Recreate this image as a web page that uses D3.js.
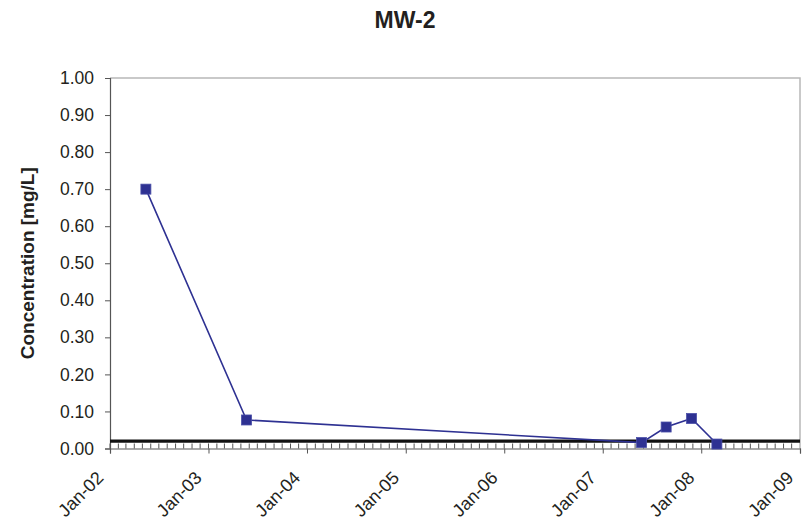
<!DOCTYPE html>
<html>
<head>
<meta charset="utf-8">
<script src="https://cdn.jsdelivr.net/npm/d3@7"></script>
<style>
  html, body { margin: 0; padding: 0; background: #fff; }
  svg { display: block; font-family: "Liberation Sans", Arial, sans-serif; }
</style>
</head>
<body>
<svg id="chart" width="803" height="522"></svg>
<script>
// Sampling dates and measured concentrations for well MW-2
const sampleDates = ["2002-05-14", "2003-05-22", "2007-05-25", "2007-08-24", "2007-11-26", "2008-02-28"];
const concentrations = [0.70, 0.077, 0.016, 0.058, 0.081, 0.012];
// Reference / screening level
const thresholdValue = 0.02;
// Axis ticks
const yTickValues = [0, 0.1, 0.2, 0.3, 0.4, 0.5, 0.6, 0.7, 0.8, 0.9, 1.0];
const xTickLabels = ["Jan-02", "Jan-03", "Jan-04", "Jan-05", "Jan-06", "Jan-07", "Jan-08", "Jan-09"];
const xDomain = ["2002-01-01", "2009-01-01"];

const parse = d3.timeParse("%Y-%m-%d");
const points = sampleDates.map((d, i) => ({ date: parse(d), value: concentrations[i] }));

const svg = d3.select("#chart");
const plotLeft = 110, plotRight = 800, plotTop = 78, plotBottom = 448.5;
const textColor = "#231f20";

const x = d3.scaleTime().domain(xDomain.map(parse)).range([plotLeft, plotRight]);
const y = d3.scaleLinear().domain([0, 1]).range([plotBottom, plotTop]);

// Title
svg.append("text")
  .attr("x", 405).attr("y", 28)
  .attr("text-anchor", "middle")
  .attr("font-size", 23).attr("font-weight", "bold")
  .attr("fill", textColor)
  .text("MW-2");

// Plot frame: top and right edges in light grey
svg.append("path")
  .attr("d", `M${plotLeft},${plotTop}H${plotRight}V${plotBottom}`)
  .attr("fill", "none").attr("stroke", "#b8b8b8").attr("stroke-width", 1.5);

// Y axis
const yAxis = svg.append("g")
  .attr("transform", `translate(${plotLeft},0)`)
  .call(d3.axisLeft(y).tickValues(yTickValues).tickFormat(d3.format(".2f")).tickSizeOuter(0).tickSize(5).tickPadding(11));
yAxis.select(".domain").attr("stroke", "#555").attr("stroke-width", 1.2);
yAxis.selectAll(".tick line").attr("stroke", "#555");
yAxis.selectAll("text").attr("font-size", 17.5).attr("fill", textColor)
  .attr("font-family", "Liberation Sans, Arial, sans-serif");

// Y axis title
svg.append("text")
  .attr("transform", `translate(34,${(plotTop + plotBottom) / 2}) rotate(-90)`)
  .attr("text-anchor", "middle")
  .attr("font-size", 19).attr("font-weight", "bold")
  .attr("fill", textColor)
  .text("Concentration [mg/L]");

// Monthly minor ticks pointing into the plot
const months = d3.timeMonth.range(x.domain()[0], x.domain()[1]);
svg.append("g").selectAll("line")
  .data(months)
  .join("line")
  .attr("x1", d => x(d)).attr("x2", d => x(d))
  .attr("y1", plotBottom).attr("y2", plotBottom - 5)
  .attr("stroke", "#555").attr("stroke-width", 1);

// X axis with yearly major ticks
const yearTicks = d3.timeYear.range(x.domain()[0], d3.timeDay.offset(x.domain()[1], 1));
const xAxis = svg.append("g")
  .attr("transform", `translate(0,${plotBottom})`)
  .call(d3.axisBottom(x).tickValues(yearTicks).tickFormat((d, i) => xTickLabels[i]).tickSizeOuter(0).tickSize(5));
xAxis.select(".domain").attr("stroke", "#555").attr("stroke-width", 1.2);
xAxis.selectAll(".tick line").attr("stroke", "#555");
xAxis.selectAll("text")
  .attr("font-size", 18).attr("fill", textColor)
  .attr("font-family", "Liberation Sans, Arial, sans-serif")
  .attr("text-anchor", "end")
  .attr("transform", "translate(-10.5,26) rotate(-45)")
  .attr("x", 0).attr("y", 0).attr("dy", "0.35em");

// Threshold line
svg.append("line")
  .attr("x1", plotLeft).attr("x2", plotRight)
  .attr("y1", y(thresholdValue)).attr("y2", y(thresholdValue))
  .attr("stroke", "#111").attr("stroke-width", 3.2);

// Concentration series
const navy = "#2e3192";
svg.append("path")
  .datum(points)
  .attr("fill", "none")
  .attr("stroke", navy).attr("stroke-width", 1.6)
  .attr("d", d3.line().x(d => x(d.date)).y(d => y(d.value)));

const ms = 10;
svg.append("g").selectAll("rect")
  .data(points)
  .join("rect")
  .attr("x", d => x(d.date) - ms / 2).attr("y", d => y(d.value) - ms / 2)
  .attr("width", ms).attr("height", ms)
  .attr("fill", navy).attr("stroke", "#4a4fa8").attr("stroke-width", 0.8);
</script>
</body>
</html>
